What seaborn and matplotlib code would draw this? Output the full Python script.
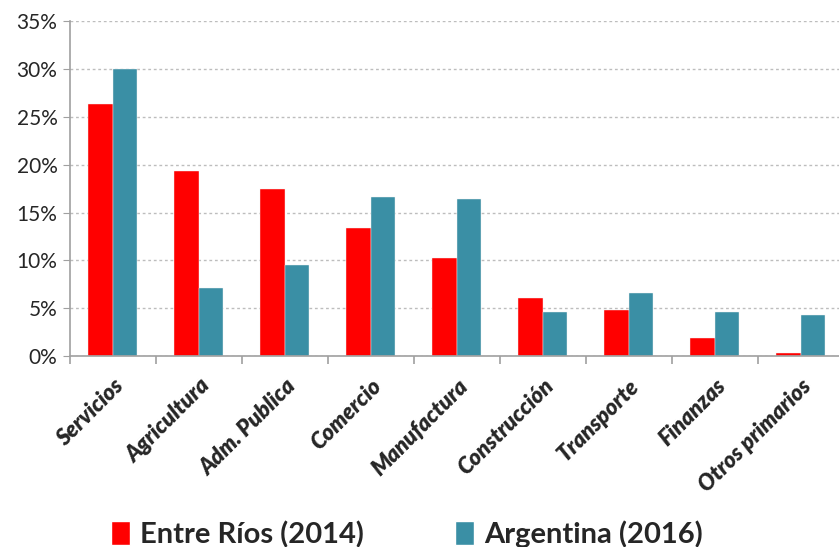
import matplotlib
matplotlib.use('Agg')
import matplotlib.pyplot as plt
import seaborn as sns
import pandas as pd
from matplotlib.patches import Patch
from matplotlib.ticker import FuncFormatter, FixedLocator

sectores = ['Servicios', 'Agricultura', 'Adm. Publica', 'Comercio', 'Manufactura',
            'Construcción', 'Transporte', 'Finanzas', 'Otros primarios']
entre_rios = [26.3, 19.3, 17.5, 13.4, 10.3, 6.1, 4.8, 1.9, 0.3]
argentina = [30.0, 7.1, 9.5, 16.6, 16.4, 4.6, 6.6, 4.6, 4.3]
series = ['Entre Ríos (2014)', 'Argentina (2016)']
colores = ['#FF0000', '#3A8FA5']

df = pd.DataFrame({
    'sector': sectores * 2,
    'valor': entre_rios + argentina,
    'serie': [series[0]] * len(sectores) + [series[1]] * len(sectores),
})

sns.set_style('white')
plt.rcParams['font.family'] = ['Lato', 'DejaVu Sans']

fig = plt.figure(figsize=(8.39, 5.47), dpi=100)
ax = fig.add_axes([0.0834, 0.349, 0.9225, 0.6124])

sns.barplot(data=df, x='sector', y='valor', hue='serie', palette=colores, saturation=1,
            width=0.57, edgecolor='#F2F2F2', linewidth=0.3, legend=False, ax=ax)

ax.set_ylim(0, 35)
ax.set_xlim(-0.5, len(sectores) - 0.5)
ax.set_yticks(range(0, 36, 5))
ax.yaxis.set_major_formatter(FuncFormatter(lambda v, p: f'{int(v)}%'))
ax.grid(axis='y', color='#BDBDBD', linestyle=(0, (2, 2)), linewidth=1)
ax.set_axisbelow(True)

for s in ['top', 'right']:
    ax.spines[s].set_visible(False)
for s in ['left', 'bottom']:
    ax.spines[s].set_color('#A0A0A0')
    ax.spines[s].set_linewidth(1.2)

ax.tick_params(axis='y', left=True, length=5, color='#A0A0A0', labelsize=15, pad=4)
ax.tick_params(axis='x', which='major', length=0, pad=14)
ax.xaxis.set_minor_locator(FixedLocator([i - 0.5 for i in range(len(sectores) + 1)]))
ax.tick_params(axis='x', which='minor', bottom=True, length=6, color='#A0A0A0', width=1.2)

ax.set_xticks(range(len(sectores)))
ax.set_xticklabels(sectores, rotation=45, ha='right', rotation_mode='anchor',
                   fontsize=16, fontweight='heavy', fontstyle='italic')
ax.set_xlabel('')
ax.set_ylabel('')

handles = [Patch(facecolor=c, edgecolor='white') for c in colores]
fig.legend(handles, series, loc='lower center', bbox_to_anchor=(0.485, -0.05), ncol=2,
           frameon=False, prop={'size': 21, 'weight': 'bold'},
           handlelength=0.65, handleheight=0.85, handletextpad=0.35, columnspacing=3.1)

fig.savefig('out.png', dpi=100)
